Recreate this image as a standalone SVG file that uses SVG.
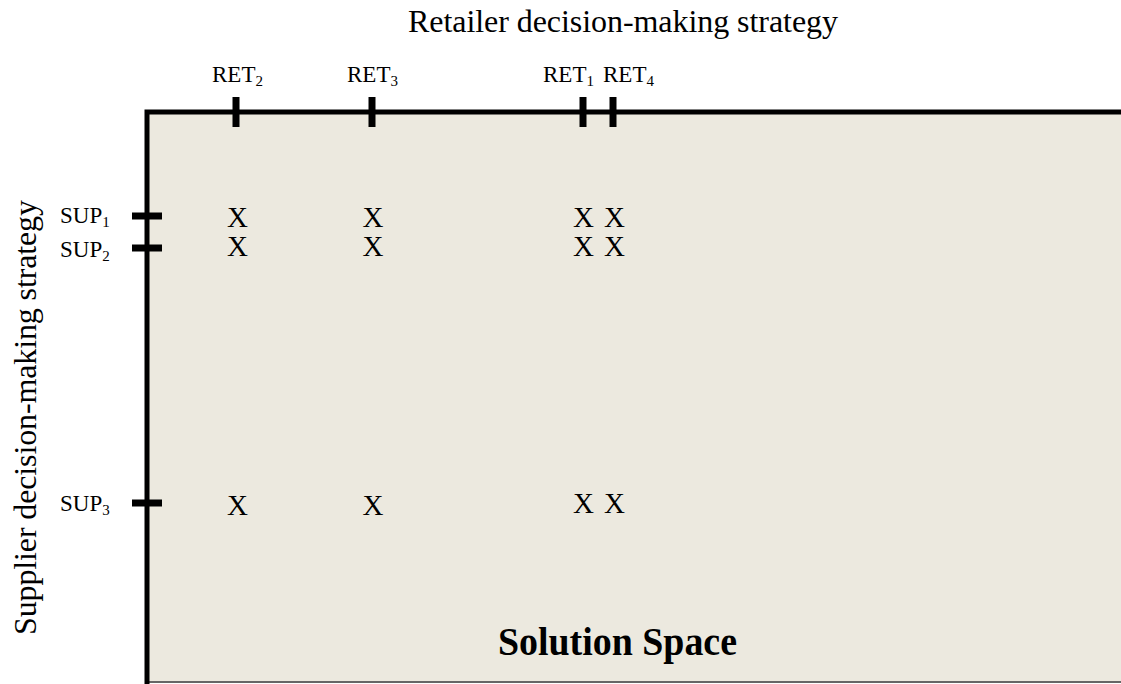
<svg xmlns="http://www.w3.org/2000/svg" width="1121" height="684" viewBox="0 0 1121 684">
  <style>
    .serif { font-family: "Liberation Serif", "Times New Roman", serif; fill: #000; }
    .title { font-size: 32px; }
    .lbl { font-size: 23px; }
    .sub { font-size: 15px; }
    .mark { font-size: 29px; text-anchor: middle; }
    .axis { stroke: #000; stroke-width: 5; fill: none; }
    .tick { stroke: #000; stroke-width: 7; }
  </style>
  <rect width="1121" height="684" fill="#ffffff"/>

  <g id="solution-space">
    <rect x="149" y="114" width="972" height="567" fill="#ECE9DF"/>
    <line x1="149" y1="682" x2="1121" y2="682" stroke="#333" stroke-width="1.5"/>
    <text class="serif" x="498" y="655" font-size="40" font-weight="bold" textLength="239" lengthAdjust="spacingAndGlyphs">Solution Space</text>
  </g>

  <g id="axes">
    <polyline class="axis" points="147,684 147,112 1121,112"/>
  </g>

  <g id="retailer-axis">
    <text class="serif title" x="408" y="32" textLength="430">Retailer decision-making strategy</text>
    <g id="ret2"><line class="tick" x1="236" y1="97" x2="236" y2="127"/><text class="serif lbl" x="212" y="82">RET<tspan class="sub" dy="4">2</tspan></text></g>
    <g id="ret3"><line class="tick" x1="372" y1="97" x2="372" y2="127"/><text class="serif lbl" x="347" y="82">RET<tspan class="sub" dy="4">3</tspan></text></g>
    <g id="ret1"><line class="tick" x1="583" y1="97" x2="583" y2="127"/><text class="serif lbl" x="543" y="82">RET<tspan class="sub" dy="4">1</tspan></text></g>
    <g id="ret4"><line class="tick" x1="613" y1="97" x2="613" y2="127"/><text class="serif lbl" x="603" y="82">RET<tspan class="sub" dy="4">4</tspan></text></g>
  </g>

  <g id="supplier-axis">
    <text class="serif" font-size="32" transform="translate(35.5,635) rotate(-90)" textLength="435">Supplier decision-making strategy</text>
    <g id="sup1"><line class="tick" x1="132" y1="216" x2="162" y2="216"/><text class="serif lbl" x="60" y="223">SUP<tspan class="sub" dy="4">1</tspan></text></g>
    <g id="sup2"><line class="tick" x1="132" y1="248" x2="162" y2="248"/><text class="serif lbl" x="60" y="257">SUP<tspan class="sub" dy="4">2</tspan></text></g>
    <g id="sup3"><line class="tick" x1="132" y1="503" x2="162" y2="503"/><text class="serif lbl" x="60" y="511">SUP<tspan class="sub" dy="4">3</tspan></text></g>
  </g>

  <g id="marks">
    <text class="serif mark" x="237.5" y="227">X</text>
    <text class="serif mark" x="373" y="227">X</text>
    <text class="serif mark" x="583.5" y="227">X</text>
    <text class="serif mark" x="614.5" y="227">X</text>
    <text class="serif mark" x="237.5" y="256">X</text>
    <text class="serif mark" x="373" y="256">X</text>
    <text class="serif mark" x="583.5" y="256">X</text>
    <text class="serif mark" x="614.5" y="256">X</text>
    <text class="serif mark" x="237.5" y="515">X</text>
    <text class="serif mark" x="373" y="515">X</text>
    <text class="serif mark" x="583.5" y="513">X</text>
    <text class="serif mark" x="614.5" y="513">X</text>
  </g>
</svg>
